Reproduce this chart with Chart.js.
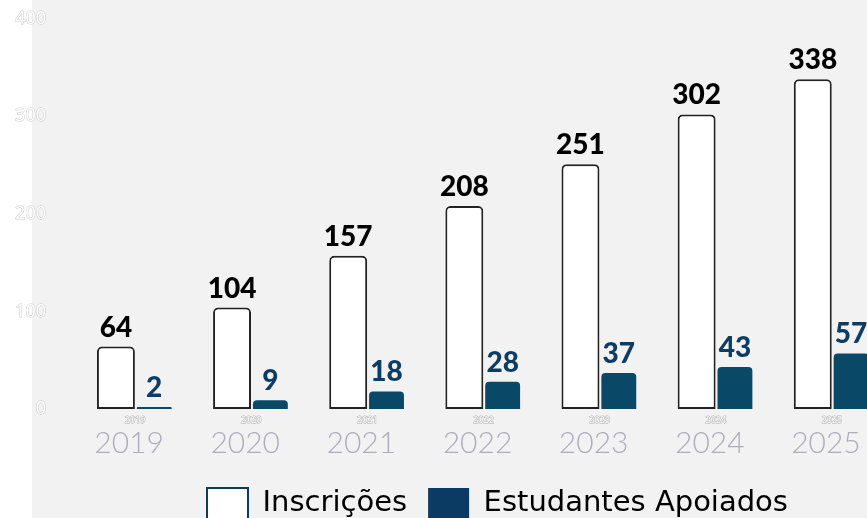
<!DOCTYPE html>
<html>
<head>
<meta charset="utf-8">
<script src="https://cdn.jsdelivr.net/npm/chart.js@4.4.1/dist/chart.umd.min.js"></script>
<style>
  html, body { margin: 0; padding: 0; overflow: hidden; background: #fff; }
  #bg { position: absolute; left: 32px; top: 0; width: 900px; height: 600px; background: #f2f2f2; }
  #wrap { position: absolute; left: 0; top: -15px; }
</style>
</head>
<body>
<div id="bg"></div>
<div id="wrap"><canvas id="chart" width="890" height="544"></canvas></div>
<script>
const years = ['2019', '2020', '2021', '2022', '2023', '2024', '2025'];
const inscricoes = [64, 104, 157, 208, 251, 302, 338];
const apoiados = [2, 9, 18, 28, 37, 43, 57];
const yTicks = [0, 100, 200, 300, 400];
const seriesNames = ['Inscrições', 'Estudantes Apoiados'];

const NAVY = '#0b3a63';
const BAR_BLUE = '#0a4868';
const labelColors = ['#000000', '#0d3d66'];

// valores em cima das barras
const valueLabels = {
    id: 'valueLabels',
    afterDatasetsDraw(chart) {
        const ctx = chart.ctx;
        ctx.save();
        ctx.font = '900 28px Lato';
        ctx.textAlign = 'center';
        ctx.textBaseline = 'alphabetic';
        chart.data.datasets.forEach((ds, i) => {
            ctx.fillStyle = labelColors[i];
            chart.getDatasetMeta(i).data.forEach((bar, j) => {
                ctx.fillText(ds.data[j], bar.x, bar.y - 10);
            });
        });
        ctx.restore();
    }
};

// a legenda fica deslocada para a direita como no original
const legendShift = {
    id: 'legendShift',
    afterLayout(chart) {
        const lg = chart.legend;
        if (!lg) return;
        lg.adjustHitBoxes();
        if (!lg.legendHitBoxes || !lg.legendHitBoxes.length) return;
        const dx = 207 - lg.legendHitBoxes[0].left;
        lg.left += dx;
        lg.right += dx;
        lg.adjustHitBoxes();
    }
};

const ctx = document.getElementById('chart').getContext('2d');
new Chart(ctx, {
    type: 'bar',
    data: {
        labels: years,
        datasets: [{
            label: seriesNames[0],
            data: inscricoes,
            backgroundColor: '#ffffff',
            borderColor: '#222222',
            borderWidth: 2,
            borderSkipped: false,
            borderRadius: { topLeft: 5, topRight: 5, bottomLeft: 0, bottomRight: 0 },
            barPercentage: 0.99,
            categoryPercentage: 0.66
        }, {
            label: seriesNames[1],
            data: apoiados,
            backgroundColor: BAR_BLUE,
            borderWidth: 0,
            borderRadius: 4,
            barPercentage: 0.91,
            categoryPercentage: 0.66
        }]
    },
    options: {
        responsive: false,
        animation: false,
        plugins: {
            tooltip: { enabled: false },
            legend: {
                position: 'bottom',
                labels: {
                    boxWidth: 41,
                    boxHeight: 31,
                    padding: 21,
                    color: '#222222',
                    font: { family: '"DejaVu Sans"', size: 29 },
                    generateLabels: function(chart) {
                        return seriesNames.map((name, i) => ({
                            text: name,
                            fillStyle: i === 0 ? '#ffffff' : NAVY,
                            strokeStyle: NAVY,
                            lineWidth: i === 0 ? 2 : 0,
                            datasetIndex: i,
                            hidden: false
                        }));
                    }
                }
            }
        },
        scales: {
            x: {
                weight: 0,
                grid: { display: false, drawTicks: false },
                border: { display: false },
                ticks: {
                    color: '#ffffff',
                    textStrokeColor: '#b0b0b0',
                    textStrokeWidth: 1,
                    padding: 6,
                    font: { family: '"Open Sans"', size: 9 }
                },
                afterFit: s => { s.height = 16; }
            },
            x2: {
                type: 'category',
                labels: years,
                position: 'bottom',
                weight: 1,
                grid: { display: false, drawTicks: false },
                border: { display: false },
                ticks: {
                    color: '#afadbd',
                    padding: 0,
                    labelOffset: -6,
                    font: { family: 'Lato', size: 30, weight: 300 }
                },
                afterFit: s => { s.height = 42; }
            },
            y: {
                min: 0,
                max: 400,
                afterBuildTicks: s => { s.ticks = yTicks.map(v => ({ value: v })); },
                grid: { display: false },
                border: { display: false },
                ticks: {
                    color: '#ffffff',
                    textStrokeColor: '#cccccc',
                    textStrokeWidth: 1,
                    padding: 23,
                    font: { family: '"Open Sans"', size: 18 }
                },
                afterFit: s => { s.width = 77; }
            }
        }
    },
    plugins: [valueLabels, legendShift]
});
</script>
</body>
</html>
